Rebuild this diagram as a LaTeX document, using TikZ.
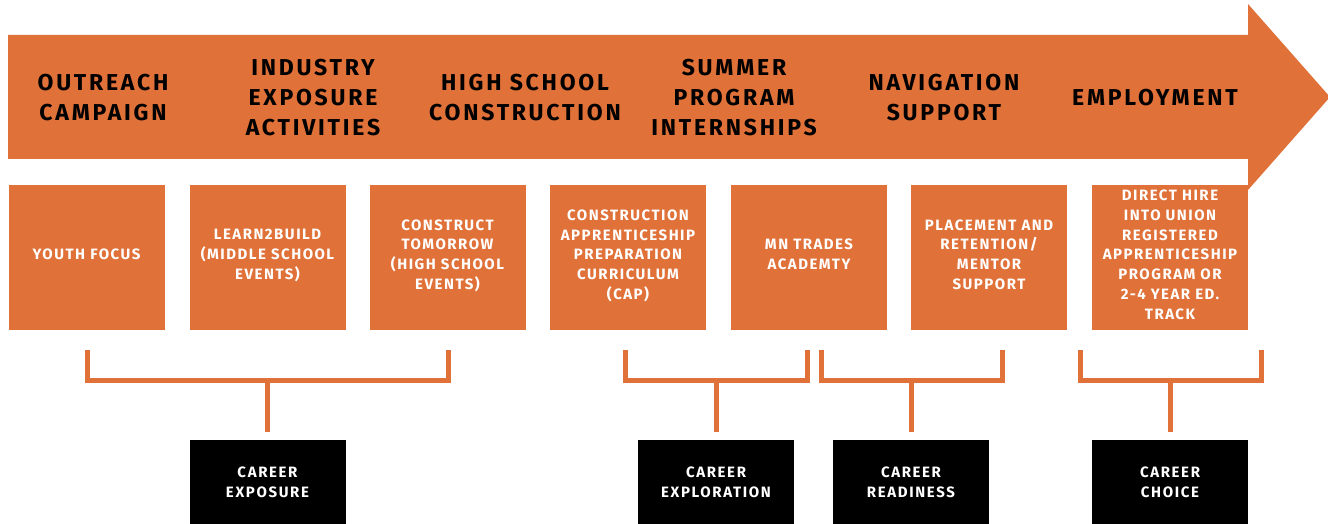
\documentclass[tikz,border=0pt]{standalone}
\usepackage{fontspec}
\usetikzlibrary{calc}
\setmainfont{Fira Sans}
\newfontfamily\hdfont{Fira Sans}[LetterSpace=12]
\newfontfamily\bxfont{Fira Sans}[LetterSpace=10]
\newfontfamily\kbfont{Fira Sans}[LetterSpace=11]
\definecolor{org}{RGB}{224,113,56}
\tikzset{
  hd/.style={align=center, text=black, font={\hdfont\bfseries\fontsize{23}{30}\selectfont}, inner sep=0},
  ob/.style={fill=org, minimum width=156pt, minimum height=145pt, inner sep=0, align=center, text=white,
     text depth=6pt, font={\bxfont\bfseries\fontsize{15}{19.8}\selectfont}},
  kb/.style={fill=black, minimum width=156pt, minimum height=84pt, inner sep=0, align=center, text=white,
     font={\kbfont\bfseries\fontsize{15}{20}\selectfont}},
  br/.style={draw=org, line width=5pt, line join=miter}
}
\begin{document}
\begin{tikzpicture}[x=1pt,y=-1pt]
\useasboundingbox (0,0) rectangle (1328,524);
% big arrow
\fill[org] (8,35) -- (1248,35) -- (1248,4) -- (1330,97) -- (1248,190) -- (1248,159) -- (8,159) -- cycle;
% headings
\node[hd] (h1) at (103,98) {OUTREACH\\CAMPAIGN};
\node[hd] (h2) at (313,98) {INDUSTRY\\EXPOSURE\\ACTIVITIES};
\node[hd] (h3) at (525,98) {HIGH SCHOOL\\CONSTRUCTION};
\node[hd] (h4) at (734,98) {SUMMER\\PROGRAM\\INTERNSHIPS};
\node[hd] (h5) at (944,98) {NAVIGATION\\SUPPORT};
\node[hd] (h6) at (1155,98) {EMPLOYMENT};
% orange boxes
\node[ob] (b1) at (86.5,257.5) {YOUTH FOCUS};
\node[ob] (b2) at (267.5,257.5) {LEARN2BUILD\\(MIDDLE SCHOOL\\EVENTS)};
\node[ob] (b3) at (447.5,257.5) {CONSTRUCT\\TOMORROW\\(HIGH SCHOOL\\EVENTS)};
\node[ob] (b4) at (628,257.5) {CONSTRUCTION\\APPRENTICESHIP\\PREPARATION\\CURRICULUM\\(CAP)};
\node[ob] (b5) at (809,257.5) {MN TRADES\\ACADEMTY};
\node[ob] (b6) at (989,257.5) {PLACEMENT AND\\RETENTION/\\MENTOR\\SUPPORT};
\node[ob] (b7) at (1170,257.5) {DIRECT HIRE\\INTO UNION\\REGISTERED\\APPRENTICESHIP\\PROGRAM OR\\2-4 YEAR ED.\\TRACK};
% black boxes
\node[kb] (k1) at (267.5,482) {CAREER\\EXPOSURE};
\node[kb] (k2) at (716,482) {CAREER\\EXPLORATION};
\node[kb] (k3) at (911,482) {CAREER\\READINESS};
\node[kb] (k4) at (1170,482) {CAREER\\CHOICE};
% brackets
\coordinate (l1) at (87,350);  \coordinate (r1) at (448,350);
\coordinate (l2) at (625,350); \coordinate (r2) at (807,350);
\coordinate (l3) at (821,350); \coordinate (r3) at (1002,350);
\coordinate (l4) at (1080,350);\coordinate (r4) at (1261,350);
\foreach \i in {1,2,3,4}{
  \draw[br] (l\i) -- ++(0,30) -| (r\i);
}
\draw[br] (k1.north |- 0,380) -- ([yshift=8pt]k1.north);
\draw[br] (k2.north |- 0,380) -- ([yshift=8pt]k2.north);
\draw[br] (k3.north |- 0,380) -- ([yshift=8pt]k3.north);
\draw[br] (k4.north |- 0,380) -- ([yshift=8pt]k4.north);
\end{tikzpicture}
\end{document}
